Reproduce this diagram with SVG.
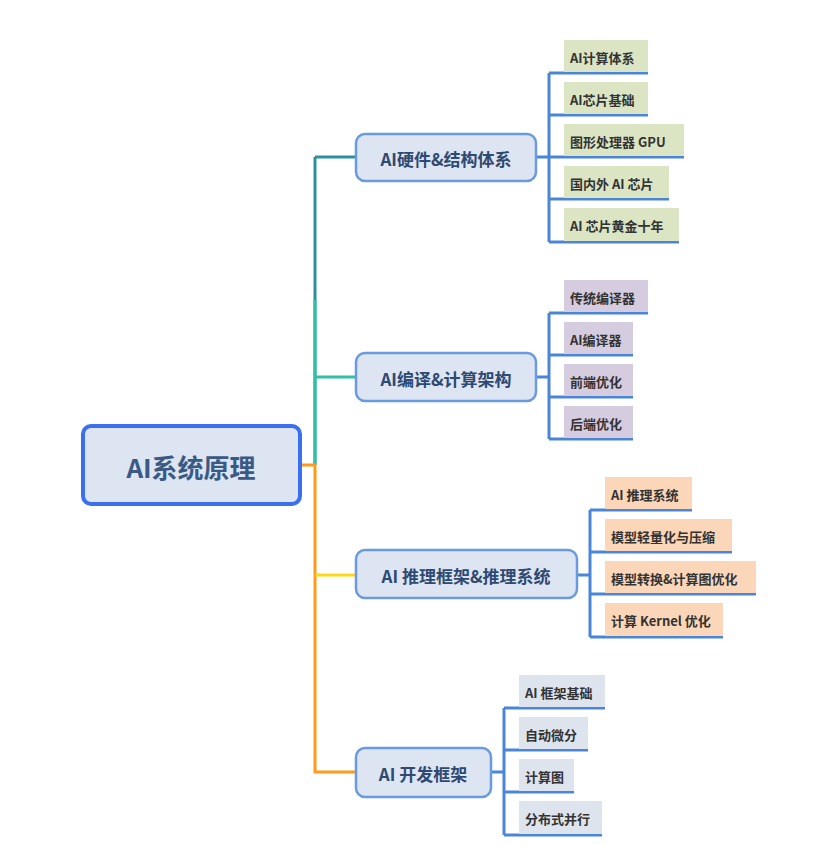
<svg xmlns="http://www.w3.org/2000/svg" width="824" height="845" viewBox="0 0 824 845">
<style>
text{font-family:"Noto Sans CJK SC","Liberation Sans",sans-serif;font-weight:bold;}
.br rect{fill:#dce5f1;stroke:#6a9ae0;stroke-width:2.5;}
.br text{fill:#2e4a72;font-size:17px;text-anchor:middle;dominant-baseline:central;}
.lf text{fill:#333;font-size:13px;dominant-baseline:central;}
.g{fill:#dbe5c3}.p{fill:#d5cce0}.o{fill:#fbd6b8}.b{fill:#dde4ee}
.ul{stroke:#4a86d8;stroke-width:3;fill:none;}
</style>
<rect width="824" height="845" fill="#fff"/>
<g id="connectors" fill="none" stroke-width="3">
<path d="M315 157V465" stroke="#2a8f9e"/>
<path d="M315 157H356" stroke="#2a8f9e"/>
<path d="M315 377H356" stroke="#2fc0a5"/>
<path d="M315 300V465" stroke="#2fc0a5"/>
<path d="M300 465H315V772H356" stroke="#ff9a1a"/>
<path d="M315 575H356" stroke="#ffd814"/>
<g class="ul">
<path d="M536 157H549M549 73V242M549 73H648M549 115H648M549 157H684M549 199H669M549 242H679"/>
<path d="M536 377H549M549 313V439M549 313H648M549 355H633M549 397H633M549 439H633"/>
<path d="M577 575H590M590 510V637M590 510H692M590 552H732M590 594H756M590 637H723"/>
<path d="M491 772H504M504 708V835M504 708H605M504 750H588M504 792H574M504 835H602"/>
</g>
</g>
<g id="root"><rect x="83" y="426" width="217" height="78" rx="8" fill="#dce5f1" stroke="#3a6ff0" stroke-width="4"/><text x="191" y="466" font-size="26" fill="#3a5a85" text-anchor="middle" dominant-baseline="central">AI系统原理</text></g>
<g id="b1" class="br"><rect x="356" y="134" width="180" height="47" rx="9"/><text x="446" y="158">AI硬件&amp;结构体系</text></g>
<g id="b2" class="br"><rect x="356" y="353" width="180" height="48" rx="9"/><text x="446" y="378">AI编译&amp;计算架构</text></g>
<g id="b3" class="br"><rect x="356" y="550" width="221" height="48" rx="9"/><text x="466" y="575">AI 推理框架&amp;推理系统</text></g>
<g id="b4" class="br"><rect x="356" y="748" width="135" height="49" rx="9"/><text x="423" y="773">AI 开发框架</text></g>
<g id="l1" class="lf"><rect class="g" x="564" y="40" width="84" height="32"/><text x="570" y="57">AI计算体系</text></g>
<g id="l2" class="lf"><rect class="g" x="564" y="82" width="84" height="32"/><text x="570" y="99">AI芯片基础</text></g>
<g id="l3" class="lf"><rect class="g" x="564" y="124" width="120" height="32"/><text x="570" y="141">图形处理器 GPU</text></g>
<g id="l4" class="lf"><rect class="g" x="564" y="166" width="105" height="32"/><text x="570" y="183">国内外 AI 芯片</text></g>
<g id="l5" class="lf"><rect class="g" x="564" y="208" width="115" height="33"/><text x="570" y="225">AI 芯片黄金十年</text></g>
<g id="l6" class="lf"><rect class="p" x="564" y="280" width="84" height="32"/><text x="570" y="297">传统编译器</text></g>
<g id="l7" class="lf"><rect class="p" x="564" y="322" width="69" height="32"/><text x="570" y="339">AI编译器</text></g>
<g id="l8" class="lf"><rect class="p" x="564" y="364" width="69" height="32"/><text x="570" y="381">前端优化</text></g>
<g id="l9" class="lf"><rect class="p" x="564" y="406" width="69" height="32"/><text x="570" y="423">后端优化</text></g>
<g id="l10" class="lf"><rect class="o" x="605" y="477" width="87" height="32"/><text x="611" y="494">AI 推理系统</text></g>
<g id="l11" class="lf"><rect class="o" x="605" y="519" width="127" height="32"/><text x="611" y="536">模型轻量化与压缩</text></g>
<g id="l12" class="lf"><rect class="o" x="605" y="561" width="151" height="32"/><text x="611" y="578">模型转换&amp;计算图优化</text></g>
<g id="l13" class="lf"><rect class="o" x="605" y="603" width="118" height="33"/><text x="611" y="620">计算 Kernel 优化</text></g>
<g id="l14" class="lf"><rect class="b" x="519" y="675" width="86" height="32"/><text x="525" y="692">AI 框架基础</text></g>
<g id="l15" class="lf"><rect class="b" x="519" y="717" width="69" height="32"/><text x="525" y="734">自动微分</text></g>
<g id="l16" class="lf"><rect class="b" x="519" y="759" width="55" height="32"/><text x="525" y="776">计算图</text></g>
<g id="l17" class="lf"><rect class="b" x="519" y="801" width="83" height="33"/><text x="525" y="818">分布式并行</text></g>
</svg>
